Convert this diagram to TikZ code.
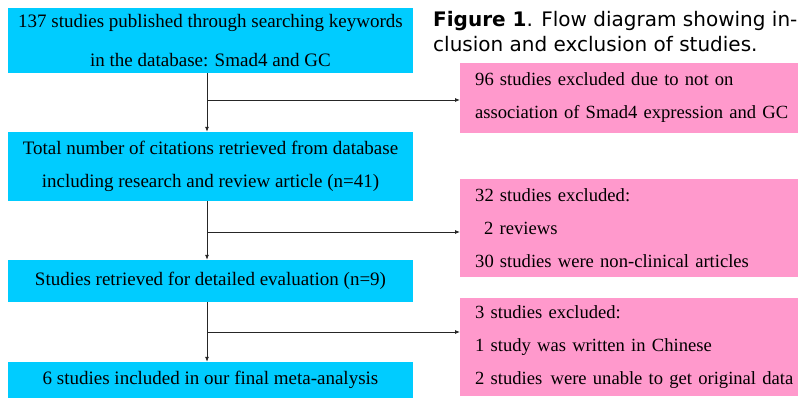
\documentclass[tikz,border=0pt]{standalone}
\usepackage{fontspec}
\setmainfont{Liberation Serif}
\newfontfamily\capfont{DejaVu Sans}
\usetikzlibrary{arrows.meta}
\definecolor{boxblue}{RGB}{0,204,255}
\definecolor{boxpink}{RGB}{255,153,204}
\tikzset{
  stepbox/.style={fill=boxblue, inner sep=0pt, minimum width=405pt, align=center,
    font=\fontsize{19}{33}\selectfont},
  exclbox/.style={fill=boxpink, anchor=west, inner xsep=15pt, inner ysep=0pt,
    text width=345pt, align=left, font=\fontsize{18.6}{33}\selectfont},
  flow/.style={-{Latex[length=5pt,width=4pt]}, line width=0.8pt, black!85},
}
\begin{document}
\begin{tikzpicture}[x=1pt, y=-1pt]
  \useasboundingbox (0,0) rectangle (798,398);
  % main steps (blue)
  \node[stepbox, minimum height=65pt, font=\fontsize{19}{39}\selectfont] (search) at (210.5,40.5)
    {137 studies published through searching keywords\\in the database: Smad4 and GC};
  \node[stepbox, minimum height=69pt] (cite) at (210.5,166.5)
    {Total number of citations retrieved from database\\including research and review article (n=41)};
  \node[stepbox, minimum height=42pt] (eval) at (210.5,281)
    {Studies retrieved for detailed evaluation (n=9)};
  \node[stepbox, minimum height=36pt] (final) at (210.5,380)
    {6 studies included in our final meta-analysis};
  % excluded studies (pink), running off the right edge
  \node[exclbox, minimum height=70pt] (excl1) at (460,98)
    {96 studies excluded due to not on\\association of Smad4 expression and GC};
  \node[exclbox, minimum height=98pt] (excl2) at (460,228)
    {32 studies excluded:\\\hspace*{9pt}2 reviews\\30 studies were non-clinical articles};
  \node[exclbox, minimum height=98pt] (excl3) at (460,347)
    {3 studies excluded:\\1 study was written in Chinese\\2 studies\hspace{2pt} were unable to get original data};
  % caption
  \node[anchor=north west, align=left, inner sep=0pt, font=\capfont\fontsize{20}{25}\selectfont]
    (caption) at (433,11) {\textbf{Figure 1}. Flow diagram showing in-\\clusion and exclusion of studies.};
  % branch points on the spine
  \coordinate (br1) at (207,100);
  \coordinate (br2) at (207,232);
  \coordinate (br3) at (207,332);
  % arrows down the spine and out to the exclusions
  \draw[flow] (search.south -| br1) -- (cite.north -| br1);
  \draw[flow] (br1) -- (br1 -| excl1.west);
  \draw[flow] (cite.south -| br2) -- (eval.north -| br2);
  \draw[flow] (br2) -- (br2 -| excl2.west);
  \draw[flow] (eval.south -| br3) -- (final.north -| br3);
  \draw[flow] (br3) -- (br3 -| excl3.west);
\end{tikzpicture}
\end{document}
